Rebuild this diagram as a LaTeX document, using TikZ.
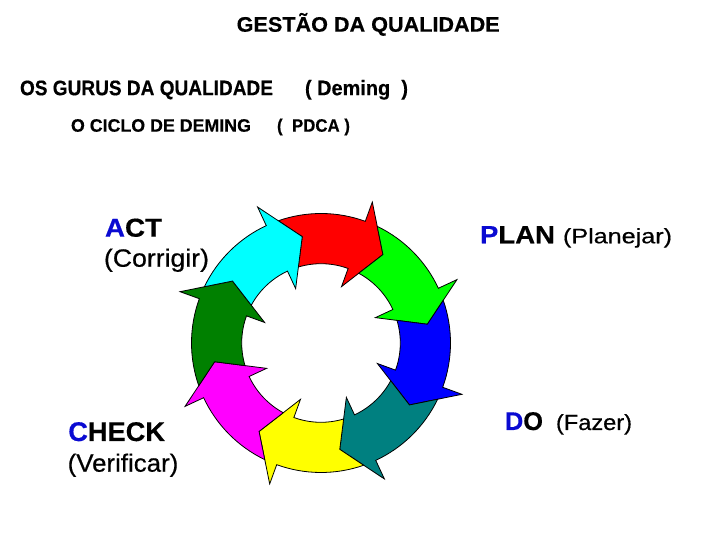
\documentclass[tikz,border=0pt]{standalone}
\usepackage{fontspec}
\setmainfont{Liberation Sans}[BoldFeatures={FakeBold=0.4}]
\newfontfamily\regb{Liberation Sans}[FakeBold=0.5]
\usepackage{graphicx}
\definecolor{cRed}{RGB}{255,0,0}
\definecolor{cGreen}{RGB}{0,255,0}
\definecolor{cBlue}{RGB}{0,0,255}
\definecolor{cTeal}{RGB}{0,128,128}
\definecolor{cYellow}{RGB}{255,255,0}
\definecolor{cMagenta}{RGB}{255,0,255}
\definecolor{cDkGreen}{RGB}{0,128,0}
\definecolor{cCyan}{RGB}{0,255,255}
\definecolor{letterblue}{RGB}{10,10,210}
\newcommand{\fs}[1]{\fontsize{#1}{#1}\selectfont}
\newcommand{\fitw}[2]{\resizebox{#1pt}{\height}{#2}}
\begin{document}
\begin{tikzpicture}[x=1pt,y=1pt,
  seg/.style={draw=black, line width=0.8pt, line join=miter},
  txt/.style={anchor=base west, inner sep=0pt, outer sep=0pt, text=black}]
\useasboundingbox (0,0) rectangle (720,540);
\fill[white] (0,0) rectangle (720,540);
\begin{scope}[shift={(321,197)}]
\foreach \t/\c in {55/cRed, 10/cGreen, -35/cBlue, -80/cTeal, -125/cYellow, -170/cMagenta, 145/cDkGreen, 100/cCyan}{
  \draw[seg, fill=\c] ({\t+54.26}:129.5) arc[start angle={\t+54.26}, end angle={\t+15}, radius=129.5]
    -- ({\t+15}:150) -- (\t:108) -- ({\t+15}:60) -- ({\t+15}:79.3)
    arc[start angle={\t+15}, end angle={\t+51.57}, radius=79.3]
    -- ({\t+45}:108) -- cycle;
}
\end{scope}
% headings
\node[txt, font=\fs{21}\bfseries] (title) at (236.7,508.3) {\fitw{263}{GESTÃO DA QUALIDADE}};
\node[txt, font=\fs{21}\bfseries] (gurus) at (20,444.8) {\fitw{253}{OS GURUS DA QUALIDADE}};
\node[txt, font=\fs{21}\bfseries] (deming) at (305,444.8) {\fitw{103}{( Deming~~)}};
\node[txt, font=\fs{18}\bfseries] (ciclo) at (71,408.3) {\fitw{180}{O CICLO DE DEMING}};
\node[txt, font=\fs{18}\bfseries] (pdca) at (277,408.3) {\fitw{73}{(~~PDCA )}};
% labels
\node[txt, font=\fs{26}\bfseries] (act) at (105,303.3) {\fitw{57}{\textcolor{letterblue}{A}CT}};
\node[txt, font=\fs{25}\regb] (corrigir) at (104,273.3) {\fitw{105}{(Corrigir)}};
\node[txt, font=\fs{25}\bfseries] (plan) at (480,296.7) {\fitw{75}{\textcolor{letterblue}{P}LAN}};
\node[txt, font=\fs{21}\regb] (planejar) at (563,296.7) {\fitw{109}{(Planejar)}};
\node[txt, font=\fs{27}\bfseries] (check) at (68.3,99) {\fitw{96.7}{\textcolor{letterblue}{C}HECK}};
\node[txt, font=\fs{25}\regb] (verificar) at (67.7,68.3) {\fitw{110.6}{(Verificar)}};
\node[txt, font=\fs{25.6}\bfseries] (do) at (505,110) {\fitw{38}{\textcolor{letterblue}{D}O}};
\node[txt, font=\fs{22}\regb] (fazer) at (556,110) {\fitw{76}{(Fazer)}};
\end{tikzpicture}
\end{document}
